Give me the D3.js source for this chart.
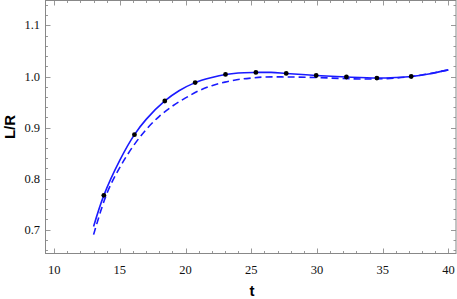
<!DOCTYPE html>
<html><head><meta charset="utf-8">
<script src="https://cdn.jsdelivr.net/npm/d3@7"></script>
<style>body{margin:0;background:#fff}svg{display:block}
.tl{font-family:"Times New Roman","Liberation Serif","DejaVu Serif",serif;font-size:12.5px;fill:#111}
.at{font-family:Arial,"Liberation Sans",sans-serif;font-weight:bold;font-size:15px;fill:#000}</style>
</head><body>
<svg id="c" width="457" height="299"></svg>
<script>
const pointT = [13.78,16.11,18.42,20.73,23.04,25.35,27.66,29.94,32.24,34.56,37.17];
const pointV = [0.767,0.886,0.952,0.988,1.004,1.008,1.006,1.002,0.999,0.997,1.000];
const solidT = [13,13.78,15,16.11,17,18.42,19.5,20.73,22,23.04,24,25.35,26.5,27.66,29.94,32.24,34.56,36,37.17,38.5,40];
const solidV = [0.706,0.767,0.836,0.886,0.916,0.952,0.972,0.988,0.998,1.004,1.007,1.008,1.008,1.006,1.002,0.999,0.997,0.998,1.000,1.005,1.013];
const dashT = [13,14,15,16,17,18,19,20,21,22,23,24,25,26,28,30,32,34,36,38,40];
const dashV = [0.690,0.770,0.822,0.863,0.896,0.922,0.942,0.958,0.972,0.982,0.989,0.994,0.997,0.999,0.999,0.998,0.996,0.995,0.997,1.003,1.013];
const xMajor = [10,15,20,25,30,35,40];
const yMajor = [0.7,0.8,0.9,1.0,1.1];

const svg = d3.select('#c');
const L=45.5, R=456, T=0.5, B=253.5;
const x = d3.scaleLinear().domain([9.34,40.58]).range([L,R]);
const y = d3.scaleLinear().domain([0.653,1.149]).range([B,T]);

const xMinor = d3.range(10,41,1).filter(v=>v%5!==0);
const yMinor = d3.range(66,115,2).map(v=>v/100).filter(v=>Math.round(v*100)%10!==0);
const tc = '#999';
const g = svg.append('g');
[[xMajor,5],[xMinor,2.5]].forEach(([vals,len])=>{
  vals.forEach(v=>{
    const xx = Math.round(x(v))+0.5;
    g.append('line').attr('x1',xx).attr('x2',xx).attr('y1',B).attr('y2',B-len).attr('stroke',tc);
    g.append('line').attr('x1',xx).attr('x2',xx).attr('y1',T).attr('y2',T+len).attr('stroke',tc);
  });
});
[[yMajor,5],[yMinor,2.5]].forEach(([vals,len])=>{
  vals.forEach(v=>{
    const yy = Math.round(y(v))+0.5;
    g.append('line').attr('y1',yy).attr('y2',yy).attr('x1',L).attr('x2',L+len).attr('stroke',tc);
    g.append('line').attr('y1',yy).attr('y2',yy).attr('x1',R).attr('x2',R-len).attr('stroke',tc);
  });
});
g.append('rect').attr('x',L).attr('y',T).attr('width',R-L).attr('height',B-T)
  .attr('fill','none').attr('stroke','#888');

xMajor.forEach(v=>{
  svg.append('text').attr('class','tl').attr('x',x(v)).attr('y',274).attr('text-anchor','middle').text(String(v));
});
yMajor.forEach(v=>{
  svg.append('text').attr('class','tl').attr('x',40).attr('y',y(v)+4).attr('text-anchor','end').text(v.toFixed(1));
});
svg.append('text').attr('class','at').attr('x',252).attr('y',296).attr('text-anchor','middle').text('t');
svg.append('text').attr('class','at').attr('transform','translate(15,127) rotate(-90)').attr('text-anchor','middle').text('L/R');

const line = d3.line().x(d=>x(d[0])).y(d=>y(d[1])).curve(d3.curveCatmullRom.alpha(0.5));
svg.append('path').datum(dashT.map((t,i)=>[t,dashV[i]])).attr('d',line)
  .attr('fill','none').attr('stroke','#1a1aff').attr('stroke-width',1.6).attr('stroke-dasharray','7,4');
svg.append('path').datum(solidT.map((t,i)=>[t,solidV[i]])).attr('d',line)
  .attr('fill','none').attr('stroke','#1a1aff').attr('stroke-width',1.6);
svg.selectAll('circle.p').data(pointT.map((t,i)=>[t,pointV[i]])).enter().append('circle')
  .attr('cx',d=>x(d[0])).attr('cy',d=>y(d[1])).attr('r',2.4).attr('fill','#000');
</script>
</body></html>
